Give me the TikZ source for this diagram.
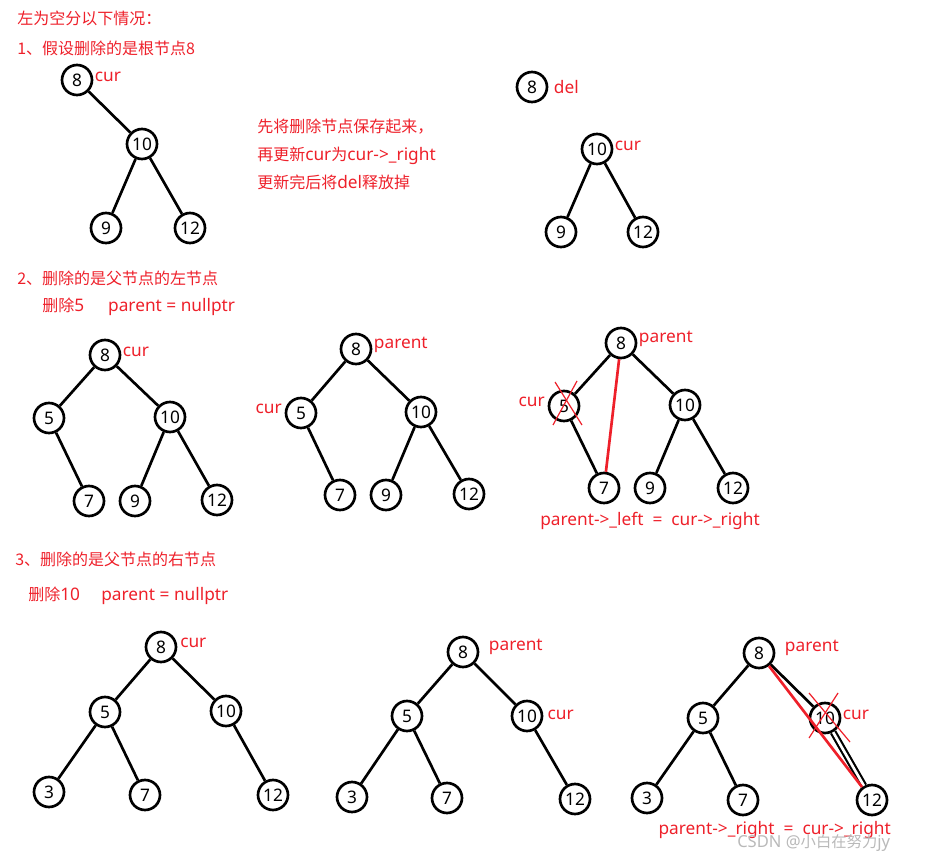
\documentclass[tikz,border=0pt]{standalone}
\usepackage{fontspec}
\setmainfont{Noto Sans}[Scale=1.08]
\newfontfamily\cjk{Noto Sans CJK SC}
\usepackage{xcolor}
\usepackage{tikz}
\usetikzlibrary{positioning}
\definecolor{markred}{RGB}{238,32,42}

\begin{document}
\begin{tikzpicture}[x=0.75pt, y=-0.75pt, node distance=0pt,
    nd/.style={circle, draw=black, line width=2pt, minimum size=22.5pt,
               inner sep=0pt, font=\fontsize{12}{13}\selectfont},
    link/.style={line width=2pt},
    redlink/.style={draw=markred, line width=2pt},
    cross/.style={draw=markred, line width=0.9pt},
    note/.style={text=markred, inner sep=0pt, anchor=west,
                 font=\fontsize{12}{21}\selectfont, align=left},
    tag/.style={text=markred, inner sep=1pt, font=\fontsize{12}{14}\selectfont}]

\useasboundingbox (0,0) rectangle (937,862);

% headings and notes
\node[note] (h0) at (17,18) {\cjk 左为空分以下情况：};
\node[note] (h1) at (17,48) {\cjk 1、假设删除的是根节点8};
\node[note] (n1) at (257,154) {{\cjk 先将删除节点保存起来，}\\{\cjk 再更新}cur{\cjk 为}cur->\_right\\{\cjk 更新完后将}del{\cjk 释放掉}};
\node[note] (h2) at (17,278) {\cjk 2、删除的是父节点的左节点};
\node[note] (s2) at (42,307) {{\cjk 删除}5\hspace{18pt}parent = nullptr};
\node[note] (h3) at (15,559) {\cjk 3、删除的是父节点的右节点};
\node[note] (s3) at (28,596) {{\cjk 删除}10\hspace{16pt}parent = nullptr};

% case 1, before
\node[nd] (a8) at (77,80) {8};
\node[nd] (a10) at (142,144) {10};
\node[nd] (a9) at (106,228) {9};
\node[nd] (a12) at (190,228) {12};
\node[tag, right=0pt of a8, yshift=2pt] (a8t) {cur};
\draw[link] (a8) -- (a10);
\draw[link] (a10) -- (a9);
\draw[link] (a10) -- (a12);

% case 1, after
\node[nd] (b8) at (532,87) {8};
\node[nd] (b10) at (597,149) {10};
\node[nd] (b9) at (561,232) {9};
\node[nd] (b12) at (643,232) {12};
\node[tag, right=3pt of b8] (b8t) {del};
\node[tag, right=0pt of b10, yshift=2pt] (b10t) {cur};
\draw[link] (b10) -- (b9);
\draw[link] (b10) -- (b12);

% case 2, start
\node[nd] (c8) at (105,355) {8};
\node[nd] (c5) at (49,418) {5};
\node[nd] (c10) at (170,417) {10};
\node[nd] (c7) at (89,501) {7};
\node[nd] (c9) at (135,501) {9};
\node[nd] (c12) at (217,500) {12};
\node[tag, right=0pt of c8, yshift=2pt] (c8t) {cur};
\draw[link] (c8) -- (c5);
\draw[link] (c8) -- (c10);
\draw[link] (c5) -- (c7);
\draw[link] (c10) -- (c9);
\draw[link] (c10) -- (c12);

% case 2, cur found
\node[nd] (d8) at (356,349) {8};
\node[nd] (d5) at (301,413) {5};
\node[nd] (d10) at (421,412) {10};
\node[nd] (d7) at (340,495) {7};
\node[nd] (d9) at (386,495) {9};
\node[nd] (d12) at (469,494) {12};
\node[tag, right=0pt of d8, yshift=3pt] (d8t) {parent};
\node[tag, left=1pt of d5, yshift=3pt] (d5t) {cur};
\draw[link] (d8) -- (d5);
\draw[link] (d8) -- (d10);
\draw[link] (d5) -- (d7);
\draw[link] (d10) -- (d9);
\draw[link] (d10) -- (d12);

% case 2, relink
\node[nd] (e8) at (621,343) {8};
\node[nd] (e5) at (564,406) {5};
\node[nd] (e10) at (685,405) {10};
\node[nd] (e7) at (604,488) {7};
\node[nd] (e9) at (650,488) {9};
\node[nd] (e12) at (733,488) {12};
\node[tag, right=0pt of e8, yshift=3pt] (e8t) {parent};
\node[tag, left=1pt of e5, yshift=3pt] (e5t) {cur};
\draw[link] (e8) -- (e5);
\draw[link] (e8) -- (e10);
\draw[link] (e5) -- (e7);
\draw[link] (e10) -- (e9);
\draw[link] (e10) -- (e12);
\draw[redlink] (e8) -- (e7);
\draw[cross] ([shift={(-9,-24)}]e5.center) -- ([shift={(18,19)}]e5.center);
\draw[cross] ([shift={(13,-25)}]e5.center) -- ([shift={(-11,19)}]e5.center);
\node[tag] (e-note) at (650,521) {parent->\_left \ = \ cur->\_right};

% case 3, start
\node[nd] (f8) at (161,647) {8};
\node[nd] (f5) at (105,712) {5};
\node[nd] (f10) at (226,711) {10};
\node[nd] (f3) at (49,792) {3};
\node[nd] (f7) at (145,795) {7};
\node[nd] (f12) at (273,795) {12};
\node[tag, right=1pt of f8, yshift=3pt] (f8t) {cur};
\draw[link] (f8) -- (f5);
\draw[link] (f8) -- (f10);
\draw[link] (f5) -- (f3);
\draw[link] (f5) -- (f7);
\draw[link] (f10) -- (f12);

% case 3, cur found
\node[nd] (g8) at (463,652) {8};
\node[nd] (g5) at (407,716) {5};
\node[nd] (g10) at (527,716) {10};
\node[nd] (g3) at (352,797) {3};
\node[nd] (g7) at (447,798) {7};
\node[nd] (g12) at (575,799) {12};
\node[tag, right=6pt of g8, yshift=4pt] (g8t) {parent};
\node[tag, right=2pt of g10, yshift=1pt] (g10t) {cur};
\draw[link] (g8) -- (g5);
\draw[link] (g8) -- (g10);
\draw[link] (g5) -- (g3);
\draw[link] (g5) -- (g7);
\draw[link] (g10) -- (g12);

% case 3, relink
\node[nd] (h8) at (759,653) {8};
\node[nd] (h5) at (703,718) {5};
\node[nd] (h10) at (825,718) {10};
\node[nd] (h3) at (647,798) {3};
\node[nd] (h7) at (743,800) {7};
\node[nd] (h12) at (872,800) {12};
\node[tag, right=6pt of h8, yshift=4pt] (h8t) {parent};
\node[tag, right=0pt of h10, yshift=2pt] (h10t) {cur};
\draw[link] (h8) -- (h5);
\draw[link] (h8) -- (h10);
\draw[link] (h5) -- (h3);
\draw[link] (h5) -- (h7);
\draw[link, double=white, double distance=2pt, line width=1.6pt] (h10) -- (h12);
\draw[redlink] (h8) -- (h12);
\draw[cross] ([shift={(-16,-25)}]h10.center) -- ([shift={(25,24)}]h10.center);
\draw[cross] ([shift={(13,-25)}]h10.center) -- ([shift={(-16,20)}]h10.center);
\node[tag, anchor=west] (h-note) at (657,830) {parent->\_right \ = \ cur->\_right};

% watermark
\node[text=gray!55, inner sep=0pt, anchor=west, font=\fontsize{11.5}{14}\selectfont] (wm) at (737,843) {CSDN @{\cjk 小白在努力}jy};
\end{tikzpicture}
\end{document}
